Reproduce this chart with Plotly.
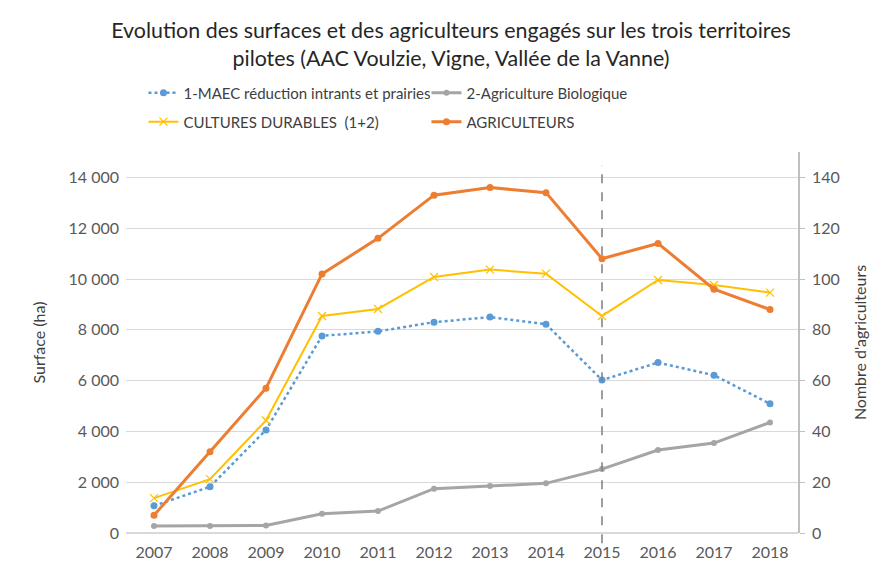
import plotly.graph_objects as go

years = ["2007", "2008", "2009", "2010", "2011", "2012", "2013", "2014", "2015", "2016", "2017", "2018"]
maec = [1070, 1820, 4060, 7760, 7940, 8300, 8500, 8220, 6020, 6710, 6210, 5090]
bio = [275, 275, 300, 760, 865, 1745, 1850, 1955, 2515, 3265, 3540, 4350]
durables = [1375, 2120, 4430, 8545, 8820, 10080, 10370, 10210, 8545, 9960, 9765, 9465]
agriculteurs = [7, 32, 57, 102, 116, 133, 136, 134, 108, 114, 96, 88]
marker_year = "2015"

left_ticks = [0, 2000, 4000, 6000, 8000, 10000, 12000, 14000]
left_labels = ["0", "2 000", "4 000", "6 000", "8 000", "10 000", "12 000", "14 000"]
right_ticks = [0, 20, 40, 60, 80, 100, 120, 140]

FONT = "Lato"
fig = go.Figure()
fig.add_trace(go.Scatter(x=years, y=maec, name="1-MAEC réduction intrants et prairies", legend="legend",
                         mode="lines+markers", line=dict(color="#5B9BD5", width=2.5, dash="dot"),
                         marker=dict(symbol="circle", size=7, color="#5B9BD5")))
fig.add_trace(go.Scatter(x=years, y=bio, name="2-Agriculture Biologique", legend="legend",
                         mode="lines+markers", line=dict(color="#A5A5A5", width=3),
                         marker=dict(symbol="circle", size=6, color="#A5A5A5")))
fig.add_trace(go.Scatter(x=years, y=durables, name="CULTURES DURABLES  (1+2)", legend="legend2",
                         mode="lines+markers", line=dict(color="#FFC000", width=2),
                         marker=dict(symbol="x-thin", size=8, color="#FFC000",
                                     line=dict(color="#FFC000", width=1.2))))
fig.add_trace(go.Scatter(x=years, y=agriculteurs, name="AGRICULTEURS", yaxis="y2", legend="legend2",
                         mode="lines+markers", line=dict(color="#ED7D31", width=3),
                         marker=dict(symbol="circle", size=7, color="#ED7D31")))

idx = years.index(marker_year)
fig.add_shape(type="line", xref="x", yref="paper", x0=idx, x1=idx, y0=-0.027, y1=0.966,
              line=dict(color="#7F7F7F", width=1.5, dash="dash"))

legend_common = dict(orientation="h", xanchor="left", yanchor="middle",
                     entrywidth=238, entrywidthmode="pixels",
                     font=dict(family=FONT, size=15, color="#404040"), bgcolor="rgba(0,0,0,0)")

fig.update_layout(
    width=886, height=571,
    margin=dict(l=118, r=96, t=144, b=46, autoexpand=False),
    paper_bgcolor="white", plot_bgcolor="white",
    font=dict(family=FONT, size=16, color="#595959"),
    title=dict(text="Evolution des surfaces et des agriculteurs engagés sur les trois territoires<br>pilotes (AAC Voulzie, Vigne, Vallée de la Vanne)",
               x=0.5, xref="container", xanchor="center", y=0.948, yref="container", yanchor="top",
               font=dict(family=FONT, size=21.4, color="#262626")),
    showlegend=True,
    legend=dict(x=0.026, y=1.155, **legend_common),
    legend2=dict(x=0.026, y=1.079, **legend_common),
    xaxis=dict(type="category", categoryorder="array", categoryarray=years, range=[-0.5, len(years) - 0.5],
               showgrid=False, showline=False, ticks="", ticklabelstandoff=8,
               tickfont=dict(size=16, color="#595959")),
    yaxis=dict(range=[0, 15000], tickvals=left_ticks, ticktext=left_labels,
               showgrid=True, gridcolor="#D9D9D9", gridwidth=1, zeroline=True, zerolinecolor="#D9D9D9",
               showline=False, ticks="", ticklabelstandoff=6, tickfont=dict(size=16, color="#595959"),
               title=dict(text="Surface (ha)", font=dict(size=16, color="#404040"), standoff=18)),
    yaxis2=dict(range=[0, 150], tickvals=right_ticks, overlaying="y", side="right",
                showgrid=False, zeroline=False, showline=True, linecolor="#BFBFBF", linewidth=1.5,
                ticks="outside", ticklen=5, tickcolor="#BFBFBF", ticklabelstandoff=4,
                tickfont=dict(size=16, color="#595959"),
                title=dict(text="Nombre d'agriculteurs", font=dict(size=16, color="#404040"), standoff=16)),
)

fig.write_html("out.html")
